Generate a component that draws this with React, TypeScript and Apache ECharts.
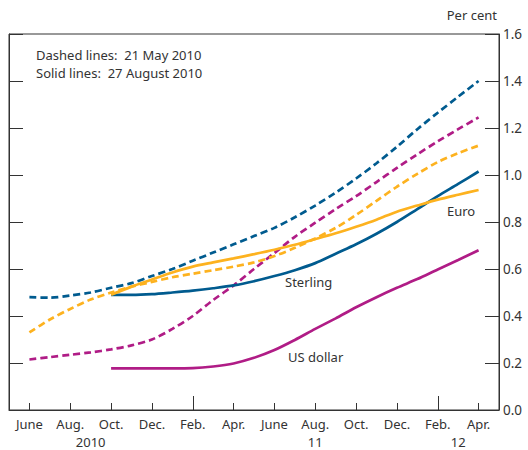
import React, { useEffect, useRef } from "react";
import * as echarts from "echarts";

// Months from May 2010 to May 2012 (axis spans one month beyond each end)
const months = [
  "May 10", "June 10", "Jul 10", "Aug 10", "Sep 10", "Oct 10", "Nov 10", "Dec 10",
  "Jan 11", "Feb 11", "Mar 11", "Apr 11", "May 11", "June 11", "Jul 11", "Aug 11",
  "Sep 11", "Oct 11", "Nov 11", "Dec 11", "Jan 12", "Feb 12", "Mar 12", "Apr 12", "May 12",
];
const monthLabels: Record<number, string> = {
  1: "June", 3: "Aug.", 5: "Oct.", 7: "Dec.", 9: "Feb.", 11: "Apr.",
  13: "June", 15: "Aug.", 17: "Oct.", 19: "Dec.", 21: "Feb.", 23: "Apr.",
};
const yearLabels: Record<number, string> = { 4: "2010", 15: "11", 22: "12" };
const longTickIdx = [9, 21];

const N = null;
// Dashed lines: 21 May 2010 (from June 2010)
const sterlingMay = [N, 0.48, 0.478, 0.487, 0.5, 0.52, 0.54, 0.57, 0.6, 0.635, 0.67, 0.705, 0.74,
  0.775, 0.82, 0.87, 0.925, 0.985, 1.05, 1.12, 1.195, 1.265, 1.333, 1.4, N];
const euroMay = [N, 0.33, 0.385, 0.43, 0.47, 0.5, 0.525, 0.545, 0.565, 0.58, 0.595, 0.61, 0.628,
  0.655, 0.69, 0.73, 0.775, 0.83, 0.89, 0.95, 1.005, 1.055, 1.093, 1.125, N];
const usdMay = [N, 0.215, 0.225, 0.235, 0.245, 0.258, 0.275, 0.3, 0.345, 0.4, 0.468, 0.53, 0.6,
  0.668, 0.737, 0.797, 0.855, 0.91, 0.97, 1.03, 1.088, 1.143, 1.195, 1.245, N];
// Solid lines: 27 August 2010 (from October 2010)
const sterlingAug = [N, N, N, N, N, 0.49, 0.49, 0.493, 0.5, 0.508, 0.518, 0.53, 0.548,
  0.57, 0.595, 0.625, 0.665, 0.705, 0.75, 0.8, 0.855, 0.91, 0.962, 1.015, N];
const euroAug = [N, N, N, N, N, 0.49, 0.525, 0.555, 0.585, 0.61, 0.628, 0.645, 0.663,
  0.682, 0.703, 0.727, 0.752, 0.78, 0.81, 0.844, 0.87, 0.895, 0.916, 0.936, N];
const usdAug = [N, N, N, N, N, 0.177, 0.177, 0.177, 0.177, 0.178, 0.185, 0.198, 0.222,
  0.255, 0.298, 0.345, 0.39, 0.437, 0.48, 0.52, 0.557, 0.598, 0.638, 0.68, N];

const yTicks = { min: 0, max: 1.6, interval: 0.2 };

const BLUE = "#005b8f";
const YELLOW = "#fdb21f";
const MAGENTA = "#b01c86";
const TEXT = "#333333";
const FONT = "Noto Sans";

export default function App() {
  const ref = useRef<HTMLDivElement>(null);
  useEffect(() => {
    if (!ref.current) return;
    const chart = echarts.init(ref.current, null, { renderer: "svg" });
    const line = (data: (number | null)[], color: string, dashed: boolean) => ({
      type: "line",
      data,
      smooth: 0.3,
      symbol: "none",
      connectNulls: false,
      lineStyle: { color, width: 2.7, type: dashed ? [7, 4] : "solid" },
      z: dashed ? 2 : 3,
    });
    chart.setOption({
      animation: false,
      textStyle: { fontFamily: FONT },
      grid: {
        left: 9, right: 29, top: 34, bottom: 40, show: true,
        borderColor: TEXT, borderWidth: 1, backgroundColor: "transparent",
      },
      xAxis: [
        {
          type: "category", data: months, boundaryGap: false,
          axisLine: { show: true, lineStyle: { color: TEXT, width: 1 } },
          axisTick: {
            show: true, inside: true, length: 7, lineStyle: { color: TEXT },
            interval: (i: number) => i % 2 === 1 && !longTickIdx.includes(i),
          },
          axisLabel: {
            interval: (i: number) => monthLabels[i] !== undefined,
            formatter: (_v: string, i: number) => monthLabels[i] || "",
            color: TEXT, fontSize: 13, margin: 7, fontFamily: FONT,
          },
          splitLine: { show: false },
        },
        {
          type: "category", data: months, boundaryGap: false, position: "bottom",
          axisLine: { show: false },
          axisTick: {
            show: true, inside: true, length: 14, lineStyle: { color: TEXT },
            interval: (i: number) => longTickIdx.includes(i),
          },
          axisLabel: { show: false },
        },
        {
          type: "category", data: months, boundaryGap: false, position: "bottom",
          axisLine: { show: false },
          axisTick: { show: false },
          axisLabel: {
            interval: (i: number) => yearLabels[i] !== undefined,
            formatter: (_v: string, i: number) => yearLabels[i] || "",
            color: TEXT, fontSize: 13, margin: 25, fontFamily: FONT,
          },
        },
      ],
      yAxis: [
        {
          type: "value", position: "right", ...yTicks,
          axisLine: { show: true, lineStyle: { color: TEXT } },
          axisTick: { show: true, inside: true, length: 14, lineStyle: { color: TEXT } },
          axisLabel: {
            color: TEXT, fontSize: 13.5, margin: 4, fontFamily: FONT,
            formatter: (v: number) => v.toFixed(1),
          },
          splitLine: { show: false },
        },
        {
          type: "value", position: "left", ...yTicks,
          axisLine: { show: true, lineStyle: { color: TEXT } },
          axisTick: { show: true, inside: true, length: 14, lineStyle: { color: TEXT } },
          axisLabel: { show: false },
          splitLine: { show: false },
        },
      ],
      series: [
        line(sterlingMay, BLUE, true),
        line(usdMay, MAGENTA, true),
        line(euroMay, YELLOW, true),
        line(usdAug, MAGENTA, false),
        line(sterlingAug, BLUE, false),
        line(euroAug, YELLOW, false),
      ],
      graphic: [
        { type: "text", right: 31, top: 8, style: { text: "Per cent", fill: TEXT, font: `13px ${FONT}` } },
        { type: "text", left: 36, top: 48, style: { text: "Dashed lines:  21 May 2010", fill: TEXT, font: `13px ${FONT}` } },
        { type: "text", left: 36, top: 66, style: { text: "Solid lines:  27 August 2010", fill: TEXT, font: `13px ${FONT}` } },
        { type: "text", left: 285, top: 275, style: { text: "Sterling", fill: TEXT, font: `13px ${FONT}` } },
        { type: "text", left: 447, top: 204, style: { text: "Euro", fill: TEXT, font: `13px ${FONT}` } },
        { type: "text", left: 288, top: 350, style: { text: "US dollar", fill: TEXT, font: `13px ${FONT}` } },
      ],
    });
    return () => chart.dispose();
  }, []);
  return <div ref={ref} style={{ width: 528, height: 450, position: "absolute", left: 0, top: 0 }} />;
}
